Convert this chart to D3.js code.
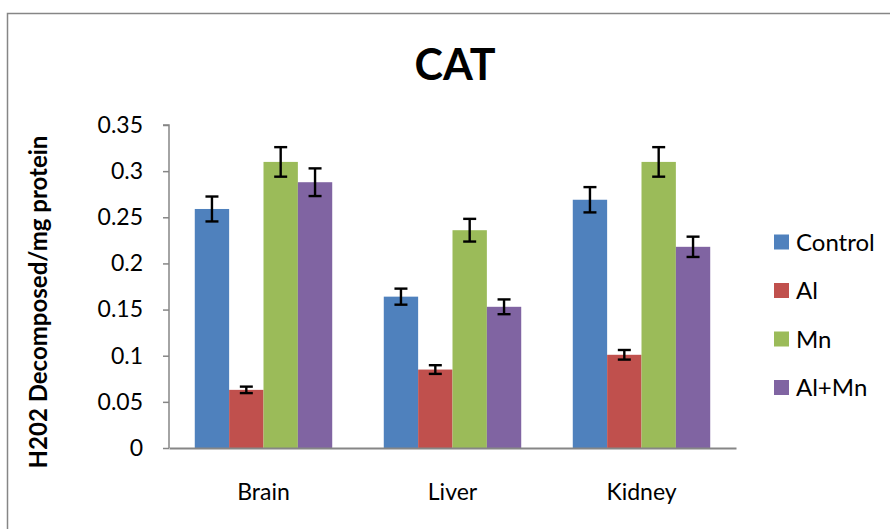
<!DOCTYPE html>
<html><head><meta charset="utf-8">
<script src="https://cdn.jsdelivr.net/npm/d3@7"></script>
<style>body{margin:0;background:#fff}svg{display:block}text{font-family:Lato,"Liberation Sans",sans-serif}</style>
</head><body><svg id="c" width="890" height="529"></svg>
<script>
const categories = ["Brain", "Liver", "Kidney"];
const seriesNames = ["Control", "Al", "Mn", "Al+Mn"];
const seriesColors = ["#4F81BD", "#C0504D", "#9BBB59", "#8064A2"];
const controlVals = [0.259, 0.164, 0.269];
const alVals = [0.063, 0.085, 0.101];
const mnVals = [0.310, 0.236, 0.310];
const alMnVals = [0.288, 0.153, 0.218];
const controlErr = [0.0135, 0.0087, 0.0137];
const alErr = [0.0035, 0.0047, 0.0052];
const mnErr = [0.016, 0.0123, 0.016];
const alMnErr = [0.015, 0.008, 0.011];
const yTicks = [0, 0.05, 0.1, 0.15, 0.2, 0.25, 0.3, 0.35];
const title = "CAT";
const yLabel = "H202 Decomposed/mg protein";

const values = [controlVals, alVals, mnVals, alMnVals];
const errors = [controlErr, alErr, mnErr, alMnErr];

const svg = d3.select("#c");
// chart border
svg.append("rect").attr("x", 7.5).attr("y", 13.5).attr("width", 900).attr("height", 540)
  .attr("fill", "#fff").attr("stroke", "#868686").attr("stroke-width", 1.5);

const plot = {left: 169, right: 736, top: 125, bottom: 448};
const x0 = d3.scaleBand().domain(categories).range([plot.left, plot.right]).paddingInner(0).paddingOuter(0);
const gapRatio = 1.5;
const bw = x0.bandwidth() / (seriesNames.length + gapRatio);
const x1 = d3.scaleBand().domain(seriesNames).range([bw * gapRatio / 2, bw * gapRatio / 2 + bw * seriesNames.length]).padding(0);
const y = d3.scaleLinear().domain([0, 0.35]).range([plot.bottom, plot.top]);

// bars
const data = [];
categories.forEach((c, i) => seriesNames.forEach((s, j) => data.push({c, s, j, v: values[j][i], e: errors[j][i]})));
svg.append("g").selectAll("rect").data(data).join("rect")
  .attr("x", d => x0(d.c) + x1(d.s)).attr("width", x1.bandwidth())
  .attr("y", d => y(d.v)).attr("height", d => y(0) - y(d.v))
  .attr("fill", d => seriesColors[d.j]);

// error bars
const eg = svg.append("g").attr("stroke", "#000").attr("stroke-width", 2.4);
data.forEach(d => {
  const cx = x0(d.c) + x1(d.s) + x1.bandwidth() / 2;
  eg.append("line").attr("x1", cx).attr("x2", cx).attr("y1", y(d.v + d.e)).attr("y2", y(d.v - d.e));
  eg.append("line").attr("x1", cx - 6.5).attr("x2", cx + 6.5).attr("y1", y(d.v + d.e)).attr("y2", y(d.v + d.e));
  eg.append("line").attr("x1", cx - 6.5).attr("x2", cx + 6.5).attr("y1", y(d.v - d.e)).attr("y2", y(d.v - d.e));
});

// y axis
const ya = svg.append("g").attr("transform", `translate(${plot.left},0)`)
  .call(d3.axisLeft(y).tickValues(yTicks).tickSize(6).tickPadding(8).tickFormat(d => d3.format("")(+d.toFixed(2))));
ya.select(".domain").attr("stroke", "#868686").attr("stroke-width", 1.5).attr("d", `M-6,${plot.top}H0V${plot.bottom}`);
ya.selectAll(".tick line").attr("stroke", "#868686").attr("stroke-width", 1.5);
ya.selectAll(".tick text").attr("font-size", 23).attr("fill", "#000").attr("dx", -12);

// x axis
const xa = svg.append("g").attr("transform", `translate(0,${plot.bottom})`)
  .call(d3.axisBottom(x0).tickSize(0).tickPadding(36));
xa.select(".domain").attr("stroke", "#868686").attr("stroke-width", 2);
xa.selectAll(".tick text").attr("font-size", 23).attr("fill", "#000");

// title
svg.append("text").attr("x", 455).attr("y", 80).attr("text-anchor", "middle")
  .attr("font-size", 43).attr("font-weight", "bold").text(title);

// y label
svg.append("text").attr("transform", `translate(${47},${302}) rotate(-90)`).attr("text-anchor", "middle")
  .attr("font-size", 24).attr("font-weight", "bold").text(yLabel);

// legend
const lg = svg.append("g");
seriesNames.forEach((s, j) => {
  const cy = 242 + j * 48.5;
  lg.append("rect").attr("x", 774).attr("y", cy - 7.5).attr("width", 15).attr("height", 15).attr("fill", seriesColors[j]);
  lg.append("text").attr("x", 796).attr("y", cy + 8.5).attr("font-size", 24).attr("fill", "#000").text(s);
});
</script></body></html>
